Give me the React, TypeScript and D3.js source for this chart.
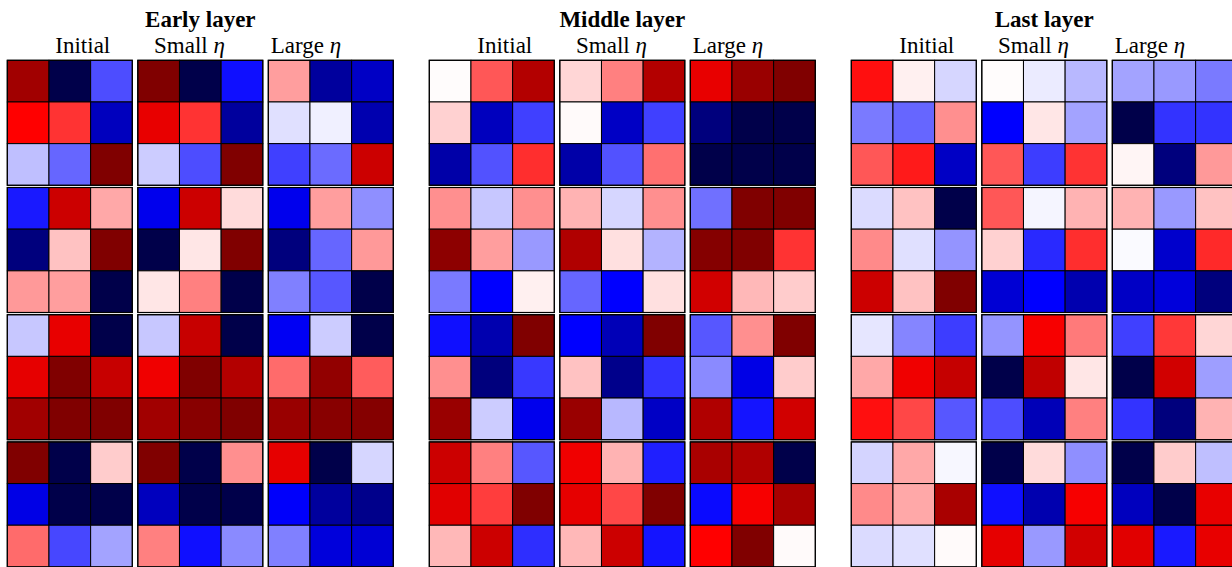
import React from "react";
import * as d3 from "d3";

// Layers and conditions
const layers = ["Early layer", "Middle layer", "Last layer"];
const conditions = ["Initial", "Small", "Large"];

// Values in [-1, 1]; each array: 4 blocks of 3x3 (row-major)
const earlyInitial = [
  [0.87, -1, -0.35, 0.5, 0.4, -0.68, -0.125, -0.3, 1.0],
  [-0.45, 0.7, 0.17, -0.86, 0.12, 1.0, 0.2, 0.19, -1],
  [-0.11, 0.59, -1, 0.6, 1.0, 0.72, 0.87, 1.0, 1.0],
  [1.0, -1, 0.1, -0.57, -1, -1, 0.29, -0.36, -0.18],
];
const earlySmall = [
  [1.0, -1, -0.47, 0.59, 0.4, -0.77, -0.1, -0.35, 1.0],
  [-0.55, 0.7, 0.07, -1, 0.05, 1.0, 0.05, 0.25, -1],
  [-0.11, 0.72, -1, 0.56, 1.0, 0.8, 0.87, 0.97, 1.0],
  [1.0, -1, 0.22, -0.68, -1, -1, 0.25, -0.47, -0.23],
];
const earlyLarge = [
  [0.19, -0.77, -0.66, -0.06, -0.03, -0.72, -0.375, -0.29, 0.7],
  [-0.55, 0.19, -0.22, -0.86, -0.3, 0.2, -0.25, -0.33, -1],
  [-0.53, -0.1, -1, 0.29, 0.93, 0.32, 0.9, 0.97, 0.98],
  [0.6, -1, -0.08, -0.51, -0.77, -0.82, -0.25, -0.6, -0.62],
];
const middleInitial = [
  [0.005, 0.33, 0.8, 0.09, -0.68, -0.375, -0.74, -0.34, 0.41],
  [0.22, -0.11, 0.22, 0.95, 0.19, -0.2, -0.26, -0.5, 0.03],
  [-0.47, -0.72, 1.0, 0.22, -0.86, -0.39, 0.9, -0.1, -0.55],
  [0.7, 0.25, -0.33, 0.62, 0.38, 1.0, 0.14, 0.7, -0.41],
];
const middleSmall = [
  [0.08, 0.25, 0.8, 0.01, -0.66, -0.375, -0.74, -0.34, 0.28],
  [0.15, -0.08, 0.22, 0.81, 0.06, -0.15, -0.3, -0.5, 0.06],
  [-0.5, -0.7, 1.0, 0.12, -0.82, -0.4, 0.9, -0.14, -0.66],
  [0.56, 0.15, -0.44, 0.6, 0.36, 1.0, 0.14, 0.7, -0.46],
];
const middleLarge = [
  [0.59, 0.9, 1.0, -0.86, -1, -1, -1, -1, -1],
  [-0.28, 1.0, 1.0, 0.98, 1.0, 0.4, 0.68, 0.14, 0.1],
  [-0.33, 0.22, 1.0, -0.23, -0.57, 0.1, 0.81, -0.46, 0.68],
  [0.84, 0.81, -1, -0.48, 0.53, 0.84, 0.5, 1.0, 0.01],
];
const lastInitial = [
  [0.47, 0.03, -0.08, -0.26, -0.3, 0.22, 0.33, 0.45, -0.66],
  [-0.07, 0.12, -1, 0.23, -0.06, -0.21, 0.7, 0.12, 1.0],
  [-0.05, -0.24, -0.38, 0.17, 0.56, 0.73, 0.47, 0.36, -0.33],
  [-0.085, 0.17, -0.015, 0.23, 0.17, 0.84, -0.07, -0.06, 0.01],
];
const lastSmall = [
  [0.005, -0.04, -0.14, -0.5, 0.05, -0.18, 0.33, -0.38, 0.4],
  [0.33, -0.02, 0.15, 0.09, -0.42, 0.41, -0.62, -0.5, -0.72],
  [-0.21, 0.53, 0.26, -1, 0.75, 0.05, -0.35, -0.7, 0.25],
  [-1, 0.07, -0.22, -0.47, -0.72, 0.53, 0.6, -0.2, 0.68],
];
const lastLarge = [
  [-0.18, -0.2, -0.26, -1, -0.4, -0.4, 0.02, -0.86, 0.2],
  [0.15, -0.2, 0.12, -0.01, -0.64, 0.42, -0.66, -0.6, -0.86],
  [-0.375, 0.39, 0.08, -1, 0.68, -0.19, -0.4, -0.86, 0.15],
  [-1, 0.1, -0.125, -0.68, -1, 0.59, 0.62, -0.45, 0.59],
];

const panels = [
  [earlyInitial, earlySmall, earlyLarge],
  [middleInitial, middleSmall, middleLarge],
  [lastInitial, lastSmall, lastLarge],
];

const seismic = d3
  .scaleLinear<string>()
  .domain([-1, -0.5, 0, 0.5, 1])
  .range(["#00004a", "#0000ff", "#ffffff", "#ff0000", "#800000"])
  .clamp(true);

export default function App() {
  const W = 1232;
  const H = 567;
  const groupX = d3.scaleLinear().domain([0, 1]).range([7.3, 429.3]);
  const panelStep = 130.5;
  const panelW = 125;
  const blockY = d3.scaleLinear().domain([0, 1]).range([60.3, 187.5]);
  const blockH = 125;
  const cell = d3.scaleBand<number>().domain([0, 1, 2]).range([0, panelW]);
  const cellV = d3.scaleBand<number>().domain([0, 1, 2]).range([0, blockH]);
  const subOffsets = [48, 146.7, 263.4];
  const font = "'Liberation Serif', 'DejaVu Serif', 'Times New Roman', serif";

  return (
    <svg
      width={W}
      height={H}
      style={{ position: "absolute", left: 0, top: 0, background: "#fff" }}
    >
      <rect width={W} height={H} fill="#fff" />
      {panels.map((group, g) => {
        const gx = groupX(g);
        const groupCenter = gx + (2 * panelStep + panelW) / 2;
        return (
          <g key={g}>
            <text
              x={groupCenter}
              y={27}
              textAnchor="middle"
              style={{ fontFamily: font, fontWeight: "bold", fontSize: "23px" }}
            >
              {layers[g]}
            </text>
            {group.map((blocks, p) => {
              const px = gx + p * panelStep;
              return (
                <g key={p}>
                  <text
                    x={gx + subOffsets[p]}
                    y={53}
                    style={{ fontFamily: font, fontSize: "23px" }}
                  >
                    {conditions[p]}
                    {p > 0 ? (
                      <tspan style={{ fontStyle: "italic" }}> η</tspan>
                    ) : null}
                  </text>
                  {blocks.map((vals, b) => {
                    const by = blockY(b);
                    return (
                      <g key={b} transform={`translate(${px},${by})`}>
                        {vals.map((v, i) => {
                          const r = Math.floor(i / 3);
                          const c = i % 3;
                          return (
                            <rect
                              key={i}
                              x={cell(c)}
                              y={cellV(r)}
                              width={cell.bandwidth()}
                              height={cellV.bandwidth()}
                              fill={seismic(v)}
                              stroke="#000"
                              strokeWidth={1}
                            />
                          );
                        })}
                        <rect
                          x={0}
                          y={0}
                          width={panelW}
                          height={blockH}
                          fill="none"
                          stroke="#000"
                          strokeWidth={1.2}
                        />
                      </g>
                    );
                  })}
                </g>
              );
            })}
          </g>
        );
      })}
    </svg>
  );
}
